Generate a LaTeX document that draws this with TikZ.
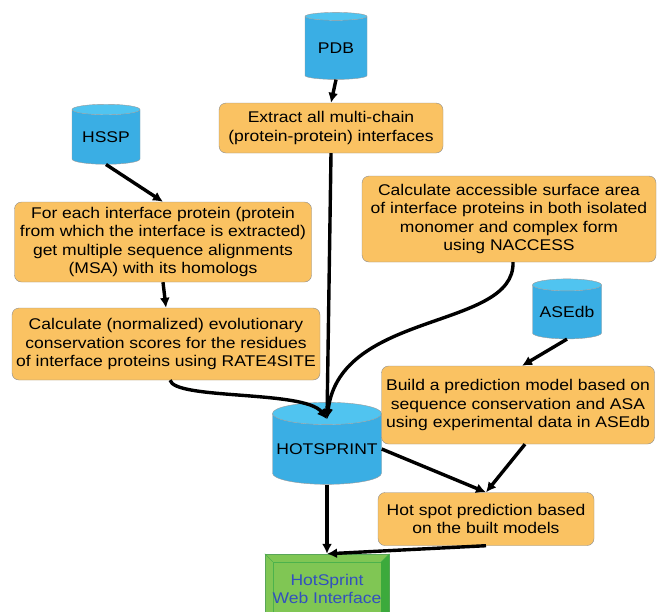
\documentclass[tikz,border=0pt]{standalone}
\usepackage{fontspec}
\setmainfont{Liberation Sans}[FakeStretch=1.13]
\usetikzlibrary{calc,shapes.geometric,arrows.meta}

\definecolor{dbblue}{RGB}{58,174,228}
\definecolor{dbtop}{RGB}{80,196,240}
\definecolor{taskorange}{RGB}{250,194,98}
\definecolor{webgreen}{RGB}{128,198,84}
\definecolor{webdark}{RGB}{60,170,60}
\definecolor{webtext}{RGB}{50,80,190}

\tikzset{
  db/.style={cylinder,shape border rotate=90,aspect=0.22,draw=gray!80,
    cylinder uses custom fill,cylinder body fill=dbblue,cylinder end fill=dbtop,
    inner sep=0pt,font=\fontsize{15.5}{18.5}\selectfont},
  task/.style={rectangle,rounded corners=7pt,draw=gray!90,fill=taskorange,
    align=center,inner sep=0pt,font=\fontsize{15.5}{18.5}\selectfont},
  link/.style={-{Latex[length=10pt,width=10pt]},line width=3.4pt}
}
\newcommand{\dbtext}[1]{\raisebox{-5pt}{#1}}

\begin{document}
\begin{tikzpicture}[x=1pt,y=-1pt]
  \useasboundingbox (0,0) rectangle (660,611);

  \node[db,minimum width=62,minimum height=67] (pdb) at (336,48) {\dbtext{PDB}};
  \node[db,minimum width=68,minimum height=60] (hssp) at (106,137) {\dbtext{HSSP}};
  \node[db,minimum width=69,minimum height=60] (asedb) at (567,312) {\dbtext{ASEdb}};
  \node[db,minimum width=109,minimum height=82] (hotsprint) at (327,449) {\dbtext{HOTSPRINT}};

  \node[task,minimum width=224,minimum height=50] (extract) at (331,128)
    {Extract all multi-chain\\(protein-protein) interfaces};
  \node[task,minimum width=297,minimum height=80] (msa) at (163,242)
    {For each interface protein (protein\\from which the interface is extracted)\\get multiple sequence alignments\\(MSA) with its homologs};
  \node[task,minimum width=308,minimum height=72] (cons) at (166,344)
    {Calculate (normalized) evolutionary\\conservation scores for the residues\\of interface proteins using RATE4SITE};
  \node[task,minimum width=294,minimum height=86] (asa) at (509,219)
    {Calculate accessible surface area\\of interface proteins in both isolated\\monomer and complex form\\using NACCESS};
  \node[task,minimum width=273,minimum height=78] (build) at (518,405)
    {Build a prediction model based on\\sequence conservation and ASA\\using experimental data in ASEdb};
  \node[task,minimum width=216,minimum height=53] (hotspot) at (486,519)
    {Hot spot prediction based\\on the built models};

  % web interface box with bevelled frame
  \node[rectangle,fill=webgreen,draw=gray!70!green,minimum width=124,minimum height=70] (web) at (327,589) {};
  \draw[gray!60!green] ($(web.north west)+(8,8)$) rectangle ($(web.south east)+(-8,-8)$);
  \fill[webdark] (web.north east) -- (web.south east) -- ($(web.south east)+(-8,-8)$)
    -- ($(web.north east)+(-8,8)$) -- cycle;
  \draw[gray!60!green] (web.north west) -- ++(8,8);
  \draw[gray!60!green] (web.north east) -- ++(-8,8);
  \node[align=center,text=webtext,font=\fontsize{15.5}{18.5}\selectfont] (weblabel) at (web.center)
    {HotSprint\\Web Interface};

  \coordinate (hin) at ($(hotsprint.north)+(0,17)$);

  \draw[link] (pdb.south) -- (extract.north);
  \draw[link] (hssp.south) -- (msa.north);
  \draw[link] (msa.south) -- (cons.north);
  \draw[link] (extract.south) -- (hin);
  \draw[link] ($(cons.south)+(4,0)$) .. controls (175,400) and (305,390) .. (hin);
  \draw[link] ($(asa.south)+(4,0)$) .. controls (515,330) and (340,310) .. (hin);
  \draw[link] (asedb.south) -- ($(build.north)+(4,0)$);
  \draw[link] ($(build.south)+(7,0)$) -- (hotspot.north);
  \draw[link] (hotsprint.east) -- (hotspot.north);
  \draw[link] (hotsprint.south) -- (web.north);
  \draw[link] (hotspot.south) -- (web.north);
\end{tikzpicture}
\end{document}
